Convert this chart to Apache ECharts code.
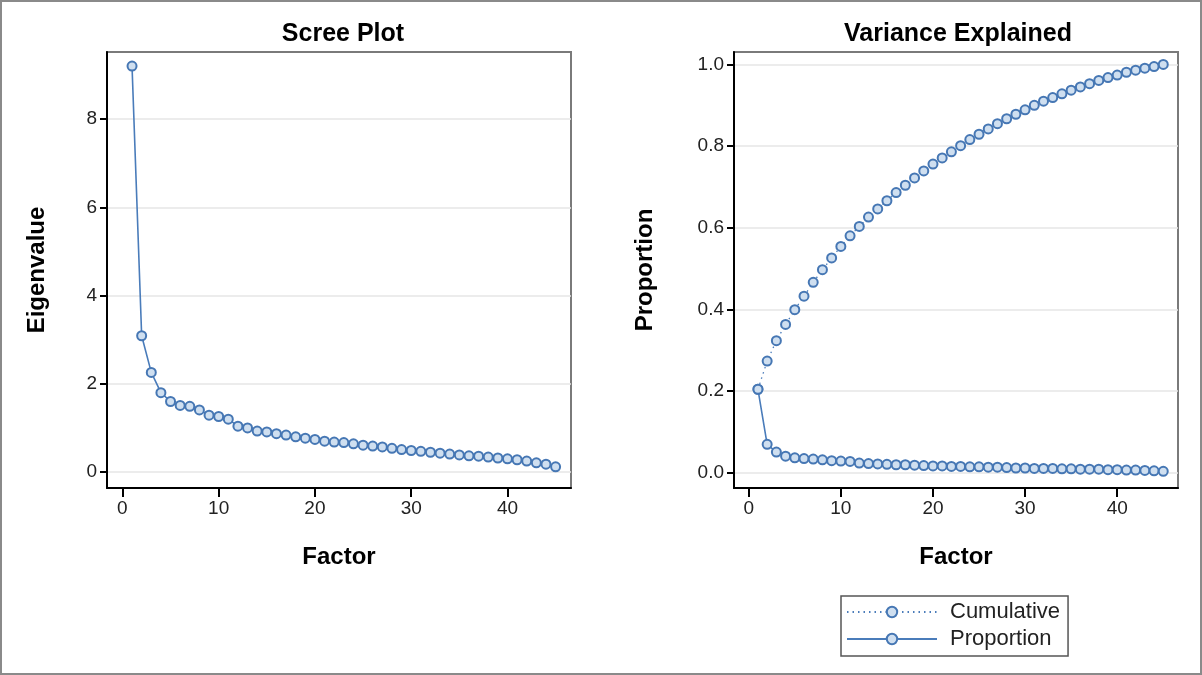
<!DOCTYPE html>
<html>
<head>
<meta charset="utf-8">
<script src="https://cdn.jsdelivr.net/npm/echarts@6/dist/echarts.min.js"></script>
<style>
    html, body { margin: 0; padding: 0; background: #fff; }
    #chart { width: 1202px; height: 675px; }
</style>
</head>
<body>
<div id="chart"></div>
<script>
// factor numbers 1..45
const factors = [1, 2, 3, 4, 5, 6, 7, 8, 9, 10, 11, 12, 13, 14, 15, 16, 17, 18, 19, 20,
    21, 22, 23, 24, 25, 26, 27, 28, 29, 30, 31, 32, 33, 34, 35, 36, 37, 38, 39, 40,
    41, 42, 43, 44, 45];
// eigenvalues
const eigenvalues = [9.20, 3.09, 2.26, 1.80, 1.60, 1.51, 1.49, 1.41, 1.29, 1.26,
    1.20, 1.04, 1.00, 0.93, 0.91, 0.87, 0.84, 0.80, 0.77, 0.74,
    0.70, 0.68, 0.67, 0.64, 0.61, 0.59, 0.57, 0.54, 0.51, 0.49,
    0.47, 0.45, 0.43, 0.41, 0.39, 0.37, 0.36, 0.34, 0.32, 0.30,
    0.28, 0.25, 0.21, 0.18, 0.12];
const proportion = [0.204, 0.069, 0.050, 0.040, 0.036, 0.034, 0.033, 0.031, 0.029, 0.028,
    0.027, 0.023, 0.022, 0.021, 0.020, 0.019, 0.019, 0.018, 0.017, 0.016,
    0.016, 0.015, 0.015, 0.014, 0.014, 0.013, 0.013, 0.012, 0.011, 0.011,
    0.010, 0.010, 0.010, 0.009, 0.009, 0.008, 0.008, 0.008, 0.007, 0.007,
    0.006, 0.006, 0.005, 0.004, 0.003];
const cumulative = [0.204, 0.273, 0.323, 0.363, 0.399, 0.432, 0.466, 0.497, 0.526, 0.554,
    0.580, 0.603, 0.626, 0.646, 0.666, 0.686, 0.704, 0.722, 0.739, 0.756,
    0.771, 0.786, 0.801, 0.816, 0.829, 0.842, 0.855, 0.867, 0.878, 0.889,
    0.900, 0.910, 0.919, 0.928, 0.937, 0.945, 0.953, 0.961, 0.968, 0.974,
    0.981, 0.986, 0.991, 0.995, 1.000];
const factorTicks = [0, 10, 20, 30, 40];
const eigenTicks = [0, 2, 4, 6, 8];
const propTicks = [0, 0.2, 0.4, 0.6, 0.8, 1.0];

const font = 'Liberation Sans, Arial, sans-serif';
const lineBlue = '#4a7cba';
const markBlue = '#4677b4';
const markFill = '#cfdff0';

function pairs(ys) {
    return factors.map(function (f, i) { return [f, ys[i]]; });
}

function xAxisOf(gridIndex) {
    return {
        type: 'value',
        gridIndex: gridIndex,
        min: -1.6,
        max: 46.6,
        name: 'Factor',
        nameLocation: 'middle',
        nameGap: 57,
        nameTextStyle: { fontFamily: font, fontWeight: 'bold', fontSize: 24, color: '#000' },
        axisLine: { show: true, onZero: false, lineStyle: { color: '#000', width: 2 } },
        axisTick: { show: true, length: 9, customValues: factorTicks, lineStyle: { color: '#000', width: 2 } },
        axisLabel: { customValues: factorTicks, margin: 11, fontFamily: font, fontSize: 19, color: '#222' },
        splitLine: { show: false }
    };
}

function yAxisOf(gridIndex, name, min, max, ticks, fmt, gap) {
    return {
        type: 'value',
        gridIndex: gridIndex,
        min: min,
        max: max,
        name: name,
        nameLocation: 'middle',
        nameGap: gap,
        nameTextStyle: { fontFamily: font, fontWeight: 'bold', fontSize: 24, color: '#000' },
        axisLine: { show: true, onZero: false, lineStyle: { color: '#000', width: 2 } },
        axisTick: { show: true, length: 7, customValues: ticks, lineStyle: { color: '#000', width: 2 } },
        axisLabel: { customValues: ticks, margin: 10, fontFamily: font, fontSize: 19, color: '#222', formatter: fmt },
        splitLine: { show: true, lineStyle: { color: '#e6e6e6', width: 1.5 } }
    };
}

const chart = echarts.init(document.getElementById('chart'));
chart.setOption({
    animation: false,
    backgroundColor: '#fff',
    title: [
        { text: 'Scree Plot', left: 338, top: 17, textAlign: 'center',
          textStyle: { fontFamily: font, fontWeight: 'bold', fontSize: 25, color: '#000' } },
        { text: 'Variance Explained', left: 953, top: 17, textAlign: 'center',
          textStyle: { fontFamily: font, fontWeight: 'bold', fontSize: 25, color: '#000' } }
    ],
    graphic: [{
        type: 'rect',
        shape: { x: 1, y: 1, width: 1200, height: 673 },
        style: { fill: 'none', stroke: '#8a8a8a', lineWidth: 2 },
        silent: true
    }],
    legend: {
        data: ['Cumulative', 'Proportion'],
        orient: 'vertical',
        left: 841,
        top: 596,
        padding: [5, 8, 6, 5],
        itemWidth: 90,
        itemHeight: 13,
        itemGap: 5,
        borderColor: '#555',
        borderWidth: 1.5,
        textStyle: { fontFamily: font, fontSize: 22, color: '#222', padding: [0, 0, 0, 8] }
    },
    grid: [
        { left: 107, top: 52, width: 464, height: 436, show: true, borderColor: '#7a7a7a', borderWidth: 2 },
        { left: 734, top: 52, width: 444, height: 436, show: true, borderColor: '#7a7a7a', borderWidth: 2 }
    ],
    xAxis: [xAxisOf(0), xAxisOf(1)],
    yAxis: [
        yAxisOf(0, 'Eigenvalue', -0.36, 9.52, eigenTicks, function (v) { return String(v); }, 58),
        yAxisOf(1, 'Proportion', -0.038, 1.0306, propTicks, function (v) { return v.toFixed(1); }, 77)
    ],
    series: [
        {
            name: 'Eigenvalue',
            type: 'line',
            xAxisIndex: 0,
            yAxisIndex: 0,
            data: pairs(eigenvalues),
            symbol: 'circle',
            symbolSize: 9,
            lineStyle: { color: lineBlue, width: 1.6 },
            itemStyle: { color: markFill, borderColor: markBlue, borderWidth: 2 }
        },
        {
            name: 'Cumulative',
            type: 'line',
            xAxisIndex: 1,
            yAxisIndex: 1,
            data: pairs(cumulative),
            symbol: 'circle',
            symbolSize: 9,
            lineStyle: { color: lineBlue, width: 1.3, type: [1.5, 4] },
            itemStyle: { color: markFill, borderColor: markBlue, borderWidth: 2 }
        },
        {
            name: 'Proportion',
            type: 'line',
            xAxisIndex: 1,
            yAxisIndex: 1,
            data: pairs(proportion),
            symbol: 'circle',
            symbolSize: 9,
            lineStyle: { color: lineBlue, width: 1.6 },
            itemStyle: { color: markFill, borderColor: markBlue, borderWidth: 2 }
        }
    ]
});
</script>
</body>
</html>
